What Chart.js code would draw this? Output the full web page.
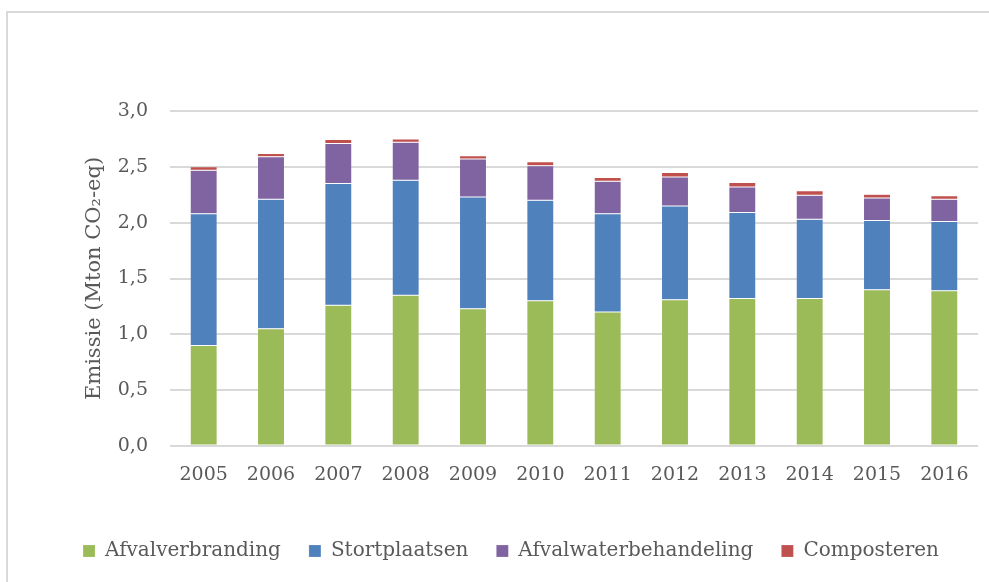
<!DOCTYPE html>
<html>
<head>
<meta charset="utf-8">
<script src="https://cdn.jsdelivr.net/npm/chart.js@4"></script>
<style>
  html, body { margin: 0; padding: 0; background: #ffffff; }
  #wrap { position: relative; width: 989px; height: 582px; }
</style>
</head>
<body>
<div id="wrap"><canvas id="c" width="989" height="582"></canvas></div>
<script>
const years = ['2005','2006','2007','2008','2009','2010','2011','2012','2013','2014','2015','2016'];
const afvalverbranding = [0.90, 1.05, 1.26, 1.35, 1.23, 1.30, 1.20, 1.31, 1.32, 1.32, 1.40, 1.39];
const stortplaatsen    = [1.18, 1.16, 1.09, 1.03, 1.00, 0.90, 0.88, 0.84, 0.77, 0.71, 0.62, 0.62];
const afvalwaterbehandeling = [0.39, 0.38, 0.36, 0.34, 0.34, 0.31, 0.29, 0.26, 0.23, 0.215, 0.20, 0.20];
const composteren      = [0.03, 0.03, 0.035, 0.03, 0.03, 0.035, 0.035, 0.04, 0.04, 0.04, 0.035, 0.03];
const seriesNames = ['Afvalverbranding', 'Stortplaatsen', 'Afvalwaterbehandeling', 'Composteren'];
const yAxisTitle = 'Emissie (Mton CO\u2082-eq)';

const textColor = '#595959';
const serif = "'DejaVu Serif', serif";

const framePlugin = {
  id: 'frame',
  beforeDraw(chart) {
    const ctx = chart.ctx;
    ctx.save();
    ctx.fillStyle = '#ffffff';
    ctx.fillRect(0, 0, chart.width, chart.height);
    ctx.strokeStyle = '#d9d9d9';
    ctx.lineWidth = 2;
    ctx.beginPath();
    ctx.moveTo(7, chart.height);
    ctx.lineTo(7, 12);
    ctx.lineTo(chart.width, 12);
    ctx.stroke();
    ctx.restore();
  }
};

function ds(label, data, color) {
  return {
    label, data,
    backgroundColor: color,
    borderColor: 'rgba(255,255,255,0.35)',
    borderWidth: 0.5,
    borderSkipped: false,
    barPercentage: 0.4,
    categoryPercentage: 1.0
  };
}

new Chart(document.getElementById('c'), {
  type: 'bar',
  data: {
    labels: years,
    datasets: [
      ds(seriesNames[0], afvalverbranding, '#9bbb59'),
      ds(seriesNames[1], stortplaatsen, '#4f81bd'),
      ds(seriesNames[2], afvalwaterbehandeling, '#8064a2'),
      ds(seriesNames[3], composteren, '#c0504d')
    ]
  },
  options: {
    responsive: false,
    animation: false,
    devicePixelRatio: 1,
    layout: { padding: { left: 44, right: 11, top: 111, bottom: 11 } },
    plugins: {
      tooltip: { enabled: false },
      legend: {
        position: 'bottom',
        labels: {
          boxWidth: 12,
          boxHeight: 12,
          padding: 28,
          color: textColor,
          font: { family: serif, size: 20 }
        }
      }
    },
    scales: {
      x: {
        stacked: true,
        grid: { display: false, drawTicks: false },
        border: { display: false },
        ticks: { color: textColor, padding: 18, font: { family: serif, size: 19 } },
        afterFit(scale) { scale.height = 67; }
      },
      y: {
        stacked: true,
        min: 0,
        max: 3,
        grid: { color: '#d9d9d9', lineWidth: 2, drawTicks: false },
        border: { display: false },
        ticks: {
          stepSize: 0.5,
          padding: 22,
          color: textColor,
          font: { family: serif, size: 19 },
          callback: v => v.toFixed(1).replace('.', ',')
        },
        title: {
          display: true,
          text: yAxisTitle,
          color: textColor,
          font: { family: serif, size: 21 },
          padding: { top: 38, bottom: 0 }
        },
        afterFit(scale) { scale.width = 126; }
      }
    }
  },
  plugins: [framePlugin]
});
</script>
</body>
</html>
